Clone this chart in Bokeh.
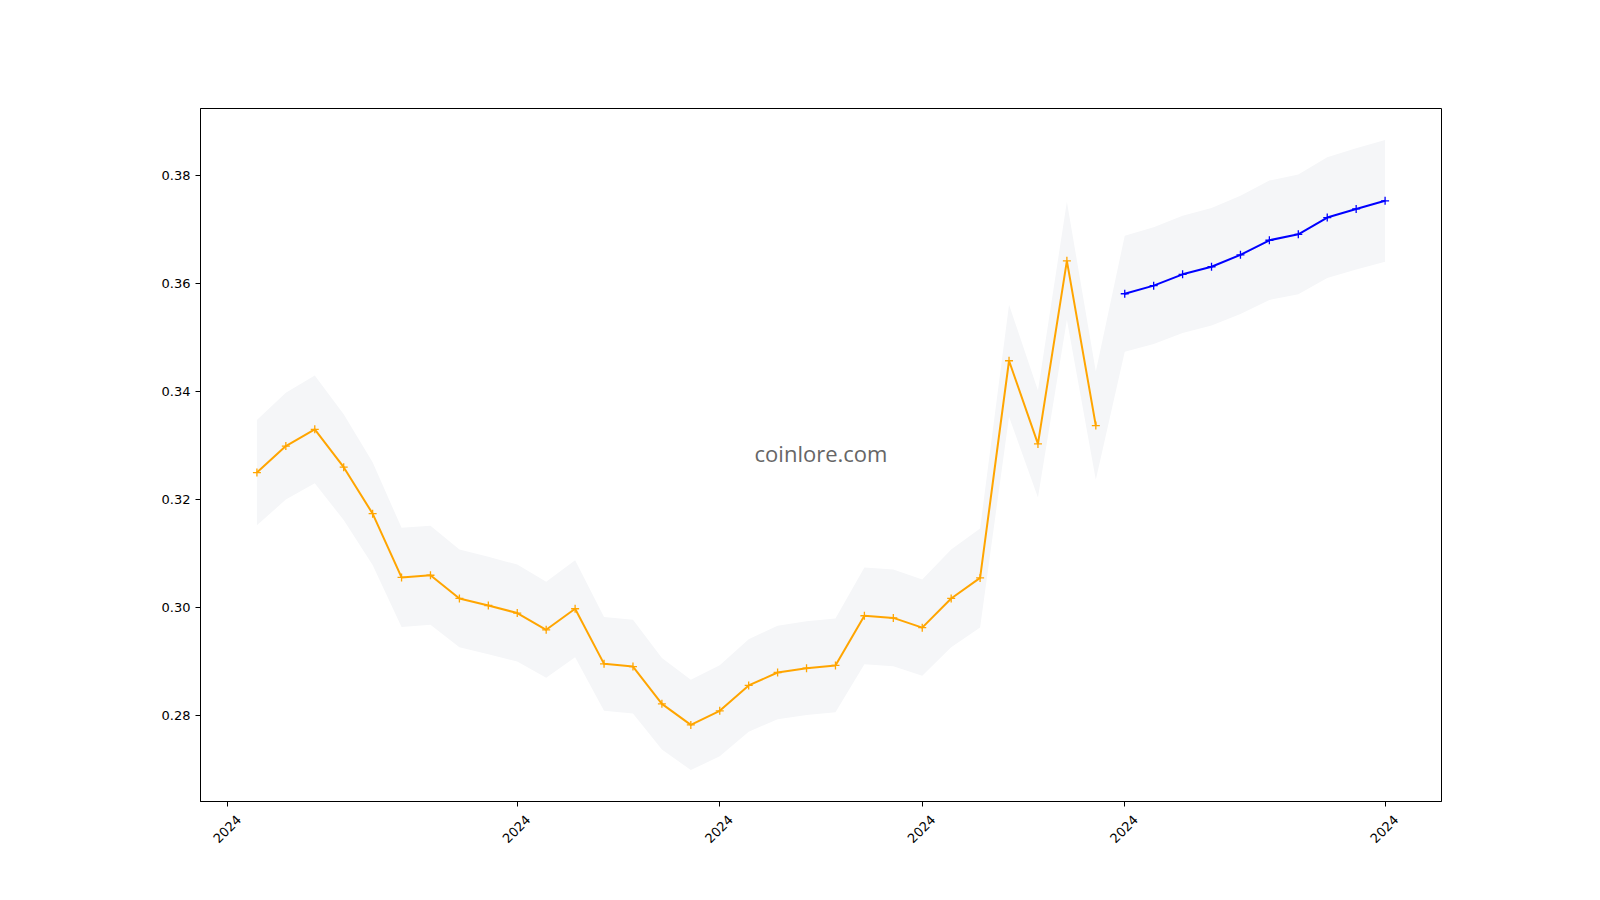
from datetime import datetime, timedelta
import numpy as np
from bokeh.plotting import figure
from bokeh.models import (Range1d, FixedTicker, Label, NumeralTickFormatter, DatetimeAxis,
                          DatetimeTickFormatter, CustomLabelingPolicy)
from bokeh.embed import file_html
from bokeh.resources import INLINE
from math import pi

# ---- data ----
history_start = "2024-08-23"
history_prices = [0.3250, 0.3299, 0.3330, 0.3260, 0.3174, 0.3056, 0.3060, 0.3017, 0.3004, 0.2990,
                  0.2959, 0.2998, 0.2896, 0.2891, 0.2822, 0.2783, 0.2809, 0.2856, 0.2880, 0.2888,
                  0.2893, 0.2985, 0.2981, 0.2963, 0.3017, 0.3055, 0.3457, 0.3303, 0.3642, 0.3337]
forecast_start = "2024-09-22"
forecast_prices = [0.3581, 0.3596, 0.3617, 0.3631, 0.3653, 0.3680, 0.3691, 0.3722, 0.3738, 0.3753]
band_pct = 0.03
tick_dates = ["2024-08-22", "2024-09-01", "2024-09-08", "2024-09-15", "2024-09-22", "2024-10-01"]
tick_label_format = "%Y"
y_ticks = [0.28, 0.30, 0.32, 0.34, 0.36, 0.38]
watermark = "coinlore.com"

# ---- derived ----
h0 = datetime.fromisoformat(history_start)
f0 = datetime.fromisoformat(forecast_start)
hx = [h0 + timedelta(days=i) for i in range(len(history_prices))]
fx = [f0 + timedelta(days=i) for i in range(len(forecast_prices))]
all_x = hx + fx
all_y = np.array(history_prices + forecast_prices)
upper = all_y * (1 + band_pct)
lower = all_y * (1 - band_pct)

span = all_x[-1] - all_x[0]
x_start = all_x[0] - span * 0.05
x_end = all_x[-1] + span * 0.05
ymin, ymax = lower.min(), upper.max()
yr = ymax - ymin
y_start, y_end = ymin - 0.05 * yr, ymax + 0.05 * yr

W, H = 1600, 900
BL, BR, BT, BB = 200, 159, 108, 99
frame_w = W - BL - BR

p = figure(width=W, height=H, output_backend="svg", toolbar_location=None,
           x_axis_type="datetime",
           x_range=Range1d(x_start, x_end),
           y_range=Range1d(y_start, y_end),
           min_border_left=BL, min_border_right=BR, min_border_top=BT, min_border_bottom=BB)
p.background_fill_color = "white"
p.border_fill_color = "white"
p.outline_line_color = "black"
p.outline_line_width = 1
p.grid.visible = False

# band
p.varea(x=all_x, y1=lower, y2=upper, fill_color="#f5f6f8")

# history
p.line(hx, history_prices, line_color="#FFA500", line_width=2)
p.scatter(hx, history_prices, marker="cross", size=8, line_color="#FFA500", line_width=1.3)
# forecast
p.line(fx, forecast_prices, line_color="#0000FF", line_width=2)
p.scatter(fx, forecast_prices, marker="cross", size=8, line_color="#0000FF", line_width=1.3)

# watermark
xc = x_start + (x_end - x_start) / 2
yc = (y_start + y_end) / 2
p.add_layout(Label(x=xc, y=yc, y_offset=2, text=watermark, text_align="center", text_baseline="middle",
                   text_font="Open Sans", text_font_size="22px", text_color="#666666"))

# axes
tick_dts = [datetime.fromisoformat(d) for d in tick_dates]
ticks_ms = [d.timestamp() * 1000 for d in tick_dts]
fmt = DatetimeTickFormatter(days=tick_label_format, months=tick_label_format,
                            years=tick_label_format, hours=tick_label_format)

# main x axis: tick marks only (labels suppressed by the labeling policy)
p.xaxis.ticker = FixedTicker(ticks=ticks_ms)
p.xaxis.formatter = fmt
p.xaxis.major_label_policy = CustomLabelingPolicy(
    code="const all = [...indices]; for (const i of all) { indices.unset(i) }; return indices")
p.xaxis.major_label_text_font_size = "1px"
p.xaxis.major_label_standoff = 0

p.yaxis.ticker = FixedTicker(ticks=y_ticks)
p.yaxis.formatter = NumeralTickFormatter(format="0.00")
p.yaxis.major_label_standoff = 5
for ax in (p.xaxis, p.yaxis):
    ax.axis_line_color = "black"
    ax.major_tick_line_color = "black"
    ax.major_tick_out = 5
    ax.major_tick_in = 0
    ax.minor_tick_line_color = None
    ax.major_label_text_font = "DejaVu Sans"
    ax.major_label_text_color = "black"
p.yaxis.major_label_text_font_size = "13px"

# label axis: rotated "2024" labels, nudged so each label is centred on its tick
span_ms = (x_end - x_start).total_seconds() * 1000
nudge_ms = 11.0 * span_ms / frame_w
label_axis = DatetimeAxis(ticker=FixedTicker(ticks=[t + nudge_ms for t in ticks_ms]),
                          formatter=fmt, axis_line_color=None, major_tick_line_color=None,
                          minor_tick_line_color=None, major_tick_out=0, major_tick_in=0,
                          major_label_orientation=pi / 4, major_label_standoff=7,
                          major_label_text_font="DejaVu Sans", major_label_text_font_size="13px",
                          major_label_text_color="black")
p.add_layout(label_axis, "below")

open("out.html", "w").write(file_html(p, INLINE))
